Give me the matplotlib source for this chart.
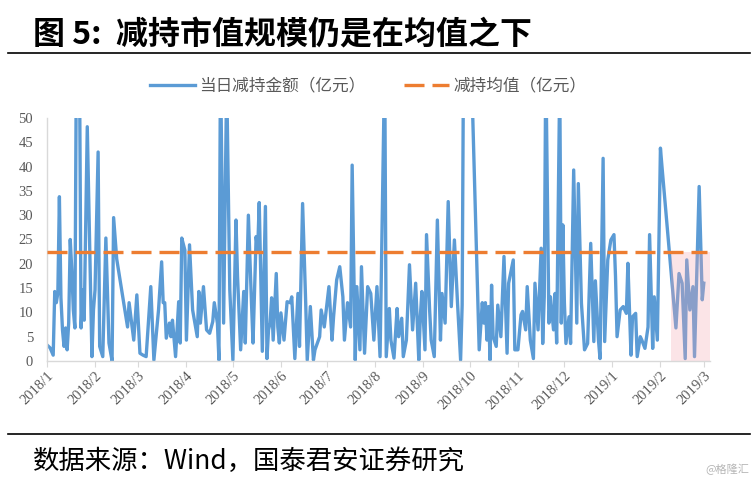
import matplotlib
matplotlib.use("Agg")
import matplotlib.pyplot as plt
import matplotlib.dates as mdates
from matplotlib.lines import Line2D
from matplotlib.ticker import FuncFormatter
import pandas as pd

plt.rcParams["font.family"] = ["Noto Sans CJK SC", "DejaVu Sans"]

# trading days, as day offsets from 2018-01-01, and daily reduction amount (100m CNY)
days = [
    0, 2, 4, 5, 6, 7, 8, 9, 10, 11, 12, 13, 14, 15, 16, 17, 18, 19, 21, 22, 23, 24, 26, 29, 30,
    31, 33, 34, 36, 38, 40, 42, 43, 45, 52, 53, 56, 58, 60, 62, 64, 67, 69,
    72, 74, 75, 76, 77, 79, 80, 81, 83, 85, 86, 87, 89, 90, 92, 94, 97, 98, 99, 101, 103, 105,
    107, 108, 110, 111, 112, 114, 116, 118, 120, 122, 123, 125, 127, 128, 130, 132, 133, 135,
    136, 137, 139, 141, 142,
    143, 144, 145, 146, 148, 149, 150, 151, 153, 155, 157, 158, 160, 162, 163, 165, 167, 168,
    170, 172, 173, 176, 177, 179, 182, 184, 185, 187, 189, 191, 192, 194, 196, 197, 199, 200,
    202, 203, 205, 207, 209, 211, 213, 215, 218, 219, 221, 222, 224, 226, 227, 229, 230, 232,
    234, 236, 238, 240, 241, 242, 244, 245, 247, 248, 250, 252, 254, 255, 257, 259, 261, 263,
    265, 267, 268, 269, 274, 279, 281, 282, 283, 284, 285, 286,
    287, 288, 290, 291, 293, 295, 297, 298, 301, 302, 304, 306, 307, 309, 310, 312, 314, 315,
    317, 319, 320, 321, 322, 324, 325, 327, 328, 329, 331, 332, 333, 334, 335, 337, 338, 340,
    342, 343, 345, 347, 349, 351, 353, 354, 356, 357, 359, 360, 362, 364, 366, 367, 368, 370,
    372, 374, 375, 377, 378, 380, 381, 383, 384, 386, 388, 389, 391, 392, 394, 396, 397, 406,
    408, 410, 412, 413, 415, 417, 418, 421, 423, 424,
]
amount = [
    3.3, 2.7, 1.2, 14.3, 12, 14, 33.8, 13, 6.4, 3, 6.8, 2.3, 7.8, 25, 18.7, 10.5, 6.8, 65, 60, 6.8,
    14.6, 8.4, 48.2, 0.9, 10.5, 14.6, 43, 3, 0.9, 25.3, 3.7, 0, 29.5, 21, 7, 12, 4.3, 13.6, 1.6,
    1.2, 0.9, 15.3, 0.2,
    10.5, 20.4, 12, 12, 4.7, 7.8, 5, 8.4, 0.9, 12.2, 3.7, 25.3, 22.8, 4.3, 23.9, 10.5, 5, 14.3,
    7.8, 15.3, 6.4, 5.7, 8.1, 12, 7.8, 0.2, 62, 7.8, 58, 14.6, 0.2, 29, 17.4, 2.3, 14.3, 3.7, 30,
    12, 3.7, 25.6, 22.8, 32.6, 2, 31.8, 0.5,
    6.4, 7.8, 13, 4.3, 18, 7, 3.7, 9.9, 4.3, 12.2, 12, 13.2, 0.5, 13.9, 3, 32.4, 12, 0.2, 11.2,
    0.2, 2.3, 5, 10.5, 7, 15.3, 4.3, 9.1, 16.7, 19.4, 13.2, 4.3, 12, 7, 40.3, 0.2, 15.3, 2.3,
    19.4, 1.6, 15.3, 13.9, 4.3, 15.3, 0.9, 62, 0.9, 10.8, 4.3, 0.6, 10.8, 5, 8.8, 0.9, 4.3, 19.8,
    6.4, 16, 0.2, 9.1, 14.3, 2.3, 26, 10.5, 4.3, 0.9, 29, 4.3, 13.9, 7.8, 32.8, 11.2, 24.9, 12,
    0.2, 11.5, 70, 60, 2.3, 12, 7.8, 12, 4.3, 11.2, 0.2,
    15.6, 5, 3, 11.5, 5, 21.5, 1.6, 16, 20.8, 2.3, 2.3, 9.5, 10.2, 6.4, 15.3, 4.3, 0.5, 16, 6.4,
    23.2, 3.6, 13.2, 62, 7.8, 13.2, 6.4, 13.9, 3.7, 58, 7.8, 28, 12, 3.6, 9.1, 3.6, 39.3, 7.8,
    36.5, 11.9, 2.3, 3.6, 24.2, 4, 16.5, 4.3, 0.5, 41.7, 4, 20.8, 24.9, 26, 17.4, 5, 10.5, 11.2,
    9.8, 20.1, 1.2, 9.1, 9.8, 0.9, 5, 4.3, 2.6, 7, 26, 2.6, 13.2, 4.3, 43.8, 40, 6.8, 18, 16, 0.5,
    20.8, 10.5, 15.3, 0.9, 35.9, 12.6, 16,
]
mean_value = 22.5
mean_span = ("2018-01-01", "2019-03-03")
highlight_span = ("2019-02-08", "2019-03-05")
x_range = ("2018-01-01", "2019-03-05")
y_ticks = list(range(0, 55, 5))

start = pd.Timestamp("2018-01-01")
dates = start + pd.to_timedelta(days, unit="D")

fig = plt.figure(figsize=(7.53, 4.86), dpi=100)
ax = fig.add_axes([47 / 753, 1 - 361 / 486, 663 / 753, 243 / 486])

ax.plot(dates, amount, color="#5B9BD5", lw=2.4, solid_joinstyle="round", zorder=2,
        label="当日减持金额（亿元）")
ax.fill_between(pd.to_datetime(list(highlight_span)), 0, mean_value,
                color="#f4a6b0", alpha=0.3, lw=0, zorder=2.5)
ax.plot(pd.to_datetime(list(mean_span)), [mean_value, mean_value], color="#ED7D31",
        lw=2.4, ls=(0, (6.0, 2.4)), zorder=3, label="减持均值（亿元）")

ax.set_xlim(pd.Timestamp(x_range[0]), pd.Timestamp(x_range[1]))
ax.set_ylim(0, 50)
ax.set_yticks(y_ticks)
ax.xaxis.set_major_locator(mdates.MonthLocator())
ax.xaxis.set_major_formatter(FuncFormatter(lambda v, _: f"{mdates.num2date(v).year}/{mdates.num2date(v).month}"))

for side in ["top", "right"]:
    ax.spines[side].set_visible(False)
for side in ["left", "bottom"]:
    ax.spines[side].set_color("#d9d9d9")
    ax.spines[side].set_linewidth(1.0)
ax.tick_params(axis="y", length=0, pad=10, labelsize=10.5, labelcolor="#595959")
ax.tick_params(axis="x", length=4, color="#d9d9d9", pad=2, labelsize=10.5, labelcolor="#595959")
for lab in ax.get_yticklabels():
    lab.set_fontfamily("Liberation Serif")
for lab in ax.get_xticklabels():
    lab.set_fontfamily("Liberation Serif")
    lab.set_rotation(45)
    lab.set_ha("right")
    lab.set_va("top")
    lab.set_rotation_mode("anchor")

fig.legend(loc="center", bbox_to_anchor=(368 / 753, 1 - 86 / 486), ncol=2, frameon=False,
           fontsize=12, handlelength=2.7, columnspacing=2.3, handletextpad=0.25,
           labelcolor="#595959")

fig.text(33 / 753, 1 - 35 / 486, "图 5:  减持市值规模仍是在均值之下", fontsize=23,
         fontweight="bold", va="center", ha="left")
fig.add_artist(Line2D([8 / 753, 750 / 753], [1 - 53 / 486] * 2, color="black", lw=1.2))
fig.add_artist(Line2D([8 / 753, 750 / 753], [1 - 434 / 486] * 2, color="black", lw=1.2))
fig.text(33 / 753, 1 - 461 / 486, "数据来源：Wind，国泰君安证券研究", fontsize=19,
         va="center", ha="left")
fig.text(749 / 753, 1 - 469 / 486, "@格隆汇", fontsize=8, color="#b5b5b5",
         va="center", ha="right")

fig.savefig("out.png", dpi=100)
plt.close(fig)
